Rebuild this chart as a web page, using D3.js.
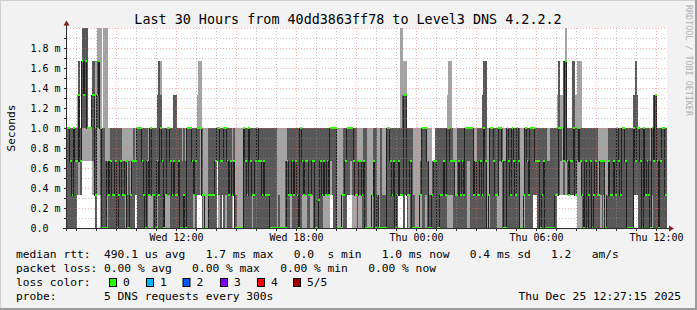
<!DOCTYPE html>
<html><head><meta charset="utf-8">
<script src="https://cdn.jsdelivr.net/npm/d3@7/dist/d3.min.js"></script>
<style>
body{margin:0;background:#f2f2f2}
svg{display:block}
text{font-family:"DejaVu Sans Mono",monospace;white-space:pre}
</style></head>
<body><svg id="c" width="697" height="310"></svg>
<script>
// ---------------- data ----------------
const chartTitle = "Last 30 Hours from 40dd3863ff78 to Level3 DNS 4.2.2.2";
const unitLabel = "Seconds";
const watermark = "RRDTOOL / TOBI OETIKER";
// 5-minute steps starting Wed Dec 24 2025 06:30
const stepStart = new Date(2025, 11, 24, 6, 30, 0);
const stepSeconds = 300;
// all ping values below are in units of 1/3 ms (timer resolution of the probe)
const valueUnitSeconds = 1e-3 / 3;
const median = [
 3,3,2,1,3,2,2,4,2,5,4,5,3,3,3,4,4,1,4,5,3,0,0,0,
 2,1,2,1,1,2,0,1,2,1,1,2,0,0,1,2,2,2,3,3,3,2,1,0,
 2,1,3,1,1,0,2,1,3,2,0,1,3,3,2,1,2,1,1,2,0,0,1,0,
 3,3,3,2,1,2,3,3,3,1,1,0,0,1,1,1,1,2,3,3,2,2,3,3,
 2,1,2,1,2,0,0,0,0,0,3,2,1,3,2,1,1,2,3,2,2,1,2,1,
 1,1,0,0,0,0,0,0,0,0,0,0,2,1,1,2,1,2,1,0,3,2,1,2,
 2,1,1,2,2,0,0,0.85,2,1,2,1,2,1,3,3,3,3,0,0,0,1,1,2,
 3,3,3,3,2,1,1,2,2,1,2,0,0,0,0,1,2,0,1,0,0,0,0,0,
 3,3,2,1,2,0,1,2,1,1,4,4,1,1,2,0,0,0,0,0,1,3,3,3,
 2,0,0,1,2,2,0,0,1,1,2,1,3,3,2,2,2,1,1,2,1,2,1,3,
 3,3,3,3,1,2,1,1,2,1,3,2,0,1,3,3,2,1,1,3,3,2,0,0,
 3,2,1,3,2,1,3,2,0,0,1,3,2,1,3,3,3,2,2,2,0,1,2,0,
 0,0,0,0,0,1,1,3,3,3,2,5,2,1,2,2,3,1,2,3,2,1,0,2,
 0,1,2,0,1,2,1,1,2,2,2,0,1,2,1,1,2,1,3,2,1,3,3,2,
 0,0,0,0,3,2,3,3,2,0,3,1,2,1,0,3,2,4,2,0,2,3,3,1
];
const pingMin = [
 0,0,0,0,0,0,1,1,1,2,2,2,2,2,2,1,1,0,1,1,0,0,0,0,
 0,0,0,0,0,0,0,0,0,0,0,0,0,0,0,0,0,1,0,0,0,0,0,0,
 0,0,0,0,0,0,0,0,0,0,0,0,0,0,0,0,0,0,0,0,0,0,0,0,
 0,0,0,0,0,0,1,1,1,0,0,0,0,0,0,0,0,0,2,0,0,1,0,0,
 0,0,0,0,1,0,0,0,0,0,0,0,0,0,0,0,0,0,0,0,0,0,0,0,
 0,0,0,0,0,0,0,0,0,0,0,0,0,0,0,0,0,0,0,0,0,0,0,0,
 0,0,0,0,0,0,0,0,0,0,0,0,0,0,1,1,0,0,0,0,0,0,0,0,
 1,1,1,0,0,0,0,0,0,0,0,0,0,0,0,0,0,0,0,0,0,0,0,0,
 0,0,0,0,0,0,0,1,1,1,0,1,0,0,0,0,0,0,0,0,0,0,0,0,
 0,0,0,0,0,0,0,0,0,0,0,0,0,0,0,0,0,0,0,0,0,0,0,0,
 0,0,0,0,0,0,0,0,0,0,0,0,0,0,0,0,0,0,0,0,0,0,0,0,
 0,0,0,0,0,0,0,0,0,0,0,0,0,0,0,0,1,1,0,0,0,0,0,0,
 0,0,0,0,0,0,1,1,1,1,1,1,1,1,1,1,1,1,0,0,0,0,0,0,
 0,0,0,0,0,0,0,0,0,0,0,0,0,0,0,0,0,0,0,0,0,0,0,0,
 0,0,0,0,1,1,1,0,0,0,0,0,0,0,0,0,0,0,0,0,0,0,0,0
];
const pingLow = [
 0,0,0,0,0,0,1,2,1,3,3,3,3,3,3,2,2,0,3,3,1,0,0,0,
 1,0,0,0,0,0,0,0,0,0,0,1,0,0,0,0,0,1,0,0,0,0,0,0,
 0,1,1,1,0,0,1,0,0,0,0,1,1,1,0,0,0,0,0,0,0,0,0,0,
 0,0,0,0,1,0,1,1,3,0,1,0,0,0,0,0,0,0,2,1,0,1,0,1,
 0,0,0,1,1,0,0,0,0,0,0,0,0,0,0,1,0,0,0,0,0,0,0,0,
 0,0,0,0,0,0,0,0,0,0,0,0,0,0,1,0,0,0,0,0,0,1,1,1,
 0,0,1,1,0,0,0,0,0,0,1,1,1,1,2,1,0,0,0,0,0,1,0,0,
 1,1,2,1,1,1,0,1,1,0,0,0,0,0,0,1,0,0,0,0,0,0,0,0,
 0,0,0,0,0,0,0,1,1,1,0,1,0,1,0,0,0,0,0,0,1,0,0,1,
 0,0,0,0,0,0,0,0,0,0,0,0,1,1,1,1,0,0,0,0,0,0,0,0,
 2,2,0,0,0,0,0,0,0,0,0,0,0,1,0,0,0,0,1,2,2,0,0,0,
 0,0,0,0,0,0,0,0,0,0,1,0,0,0,0,0,1,1,0,0,0,0,0,0,
 0,0,0,0,0,0,1,1,2,3,1,2,1,1,1,1,1,1,2,2,2,0,0,0,
 0,0,0,0,0,0,0,0,1,0,1,0,0,0,0,0,0,0,0,0,0,0,0,0,
 0,0,0,0,1,1,1,0,0,0,0,0,0,0,0,1,0,0,0,0,0,0,0,0
];
const pingHigh = [
 3,3,3,3,3,3,3,5,3,6,6,6,6,3,3,5,5,3,5,5,3,3,3,2,
 2,2,3,3,3,3,3,3,3,2,2,2,1,2,1,2,3,2,3,3,3,3,3,3,
 3,2,3,3,3,3,4,5,4,3,3,3,3,3,3,3,4,4,3,3,3,2,3,2,
 3,3,3,3,3,3,3,3,3,3,1,0,0,3,3,3,3,3,3,3,3,3,3,3,
 3,3,3,2,3,1,0,0,0,0,3,3,3,3,3,3,3,3,3,3,3,3,3,3,
 3,3,3,3,3,3,0,1,0,0,0,2,3,3,3,3,3,3,3,3,3,3,3,3,
 3,3,3,3,3,3,3,3,3,3,3,3,3,3,3,3,3,3,0,0,0,1,3,3,
 3,3,3,3,3,3,2,2,2,2,3,3,0,0,0,1,3,3,1,0,3,1,1,1,
 3,3,3,3,3,3,3,3,3,4,4,4,3,3,3,3,1,0,0,0,2,3,3,3,
 2,1,1,2,2,3,3,3,3,3,3,3,3,3,3,3,2,1,3,3,3,3,3,3,
 3,3,3,3,1,2,3,3,3,4,5,5,0,1,3,3,3,3,3,3,3,3,2,2,
 3,3,3,3,3,3,3,3,0,0,1,3,3,3,3,3,3,3,3,3,3,3,3,3,
 2,2,3,3,3,3,3,5,3,3,5,5,3,3,3,5,5,3,3,3,3,3,3,3,
 3,3,3,3,3,3,3,1,2,2,2,0,1,3,3,3,3,3,3,3,3,3,3,3,
 3,3,3,3,4,5,4,3,3,3,3,3,3,3,2,3,4,4,3,3,3,3,3,3
];
const pingMax = [
 3,3,3,3,3,3,4,5,3,7,7,7,7,3,3,5,5,5,7,7,7,3,7,7,
 7,3,3,3,3,3,3,3,3,3,3,3,3,3,3,3,3,3,3,3,3,3,3,3,
 3,3,3,3,3,3,4,5,5,3,3,3,3,3,3,3,4,4,3,3,3,3,3,3,
 3,3,3,3,3,3,4,5,5,3,3,3,3,3,3,3,3,3,3,3,3,3,3,3,
 3,3,3,3,3,3,3,3,3,3,3,3,3,3,3,3,3,3,3,3,3,3,3,3,
 3,3,3,3,3,3,3,3,3,3,3,3,3,3,3,3,3,3,3,3,3,3,3,3,
 3,3,3,3,3,3,3,3,3,3,3,3,3,3,3,3,3,3,3,3,3,3,3,3,
 3,3,3,3,3,3,3,3,3,3,3,3,3,3,3,3,3,3,3,3,3,3,3,3,
 3,3,3,3,3,3,3,3,7,7,5,5,3,3,3,3,3,3,3,3,3,3,3,3,
 3,3,3,2,2,3,3,3,3,3,3,3,4,5,5,3,3,3,3,3,3,3,3,3,
 3,3,3,3,3,3,3,3,3,4,5,5,3,3,3,3,3,3,3,3,3,3,3,3,
 3,3,3,3,3,3,3,3,3,3,3,3,3,3,3,3,3,3,3,3,3,3,3,3,
 3,3,3,3,3,3,4,5,4,4,5,7,3,3,3,5,5,4,5,5,5,3,3,3,
 3,3,3,3,3,3,3,3,3,3,3,3,3,3,3,3,3,3,3,3,3,3,3,3,
 3,3,3,3,4,5,4,3,3,3,3,3,3,3,3,3,4,4,3,3,3,3,3,3
];
const yTickValues = [0, 0.2e-3, 0.4e-3, 0.6e-3, 0.8e-3, 1.0e-3, 1.2e-3, 1.4e-3, 1.6e-3, 1.8e-3];
const yTickLabels = ["0.0  ", "0.2 m", "0.4 m", "0.6 m", "0.8 m", "1.0 m", "1.2 m", "1.4 m", "1.6 m", "1.8 m"];
const xLabelTimes = [new Date(2025,11,24,12), new Date(2025,11,24,18), new Date(2025,11,25,0), new Date(2025,11,25,6), new Date(2025,11,25,12)];
const xLabels = ["Wed 12:00", "Wed 18:00", "Thu 00:00", "Thu 06:00", "Thu 12:00"];
const legendRows = [
 "median rtt:  490.1 us avg   1.7 ms max   0.0  s min   1.0 ms now   0.4 ms sd   1.2   am/s",
 "packet loss: 0.00 % avg   0.00 % max   0.00 % min   0.00 % now",
 "loss color:",
 "probe:       5 DNS requests every 300s"
];
const lossLabels = ["0", "1", "2", "3", "4", "5/5"];
const lossColors = ["#26ff00", "#00b8ff", "#0059ff", "#7e00ff", "#ff0000", "#a10000"];
const stampText = "Thu Dec 25 12:27:15 2025";

// ---------------- drawing ----------------
const svg = d3.select("#c");
const W = 697, H = 310;
const X0 = 67, X1 = 667, Y0 = 228, Y1 = 28;
const x = d3.scaleTime().domain([new Date(2025,11,24,6,31,30), new Date(2025,11,25,12,31,30)]).range([X0, X1]);
const y = d3.scaleLinear().domain([0, 2.0e-3]).range([Y0, Y1]);

svg.append("rect").attr("width", W).attr("height", H).attr("fill", "#f2f2f2");
// frame
svg.append("rect").attr("x",0).attr("y",0).attr("width",W).attr("height",1).attr("fill","#d0d0d0");
svg.append("rect").attr("x",0).attr("y",0).attr("width",1).attr("height",H).attr("fill","#d0d0d0");
svg.append("rect").attr("x",0).attr("y",H-2).attr("width",W).attr("height",2).attr("fill","#9c9c9c");
svg.append("rect").attr("x",W-2).attr("y",0).attr("width",2).attr("height",H).attr("fill","#9c9c9c");

svg.append("rect").attr("x", X0).attr("y", Y1).attr("width", X1 - X0).attr("height", Y0 - Y1).attr("fill", "#ffffff");

svg.append("clipPath").attr("id","plot").append("rect").attr("x", X0).attr("y", Y1).attr("width", X1 - X0).attr("height", Y0 - Y1);

const steps = median.map((m, k) => ({
  t: new Date(stepStart.getTime() + k * stepSeconds * 1000),
  min: pingMin[k] * valueUnitSeconds, lo: pingLow[k] * valueUnitSeconds,
  med: m * valueUnitSeconds, hi: pingHigh[k] * valueUnitSeconds, max: pingMax[k] * valueUnitSeconds
}));
const last = steps[steps.length - 1];
const pts = steps.concat([Object.assign({}, last, {t: new Date(last.t.getTime() + stepSeconds * 1000)})]);

const g = svg.append("g").attr("clip-path", "url(#plot)");
const areaOuter = d3.area().curve(d3.curveStepAfter).x(d => x(d.t)).y0(d => y(d.min)).y1(d => y(d.max));
const areaInner = d3.area().curve(d3.curveStepAfter).x(d => x(d.t)).y0(d => y(d.lo)).y1(d => y(d.hi));
g.append("path").attr("d", areaOuter(pts)).attr("fill", "#a4a4a4").attr("shape-rendering", "crispEdges");
g.append("path").attr("d", areaInner(pts)).attr("fill", "#585858").attr("shape-rendering", "crispEdges");
const medLine = d3.line().curve(d3.curveStepAfter).x(d => x(d.t)).y(d => Math.round(y(d.med)) + 0.5);
g.append("path").attr("d", medLine(pts)).attr("fill", "none").attr("stroke", "#202020").attr("stroke-width", 1).attr("shape-rendering", "crispEdges");
g.selectAll("rect.med").data(steps).join("rect").attr("class","med")
  .attr("x", d => x(d.t)).attr("width", d => x(new Date(d.t.getTime() + stepSeconds*1000)) - x(d.t))
  .attr("y", d => Math.round(y(d.med)) - 1).attr("height", 2)
  .attr("fill", lossColors[0]).attr("shape-rendering", "crispEdges");

// grid (drawn on top like rrdtool)
const gridG = svg.append("g");
const minorH = d3.range(1, 20).map(i => i * 0.1e-3).filter((v, i) => (i + 1) % 2 === 1);
gridG.selectAll("line.hmin").data(minorH).join("line")
  .attr("x1", X0).attr("x2", X1).attr("y1", d => Math.round(y(d)) + 0.5).attr("y2", d => Math.round(y(d)) + 0.5)
  .attr("stroke", "rgba(150,150,150,0.55)").attr("stroke-dasharray", "1,2");
const majorH = yTickValues.slice(1).concat([2.0e-3]);
gridG.selectAll("line.hmaj").data(majorH).join("line")
  .attr("x1", X0).attr("x2", X1).attr("y1", d => Math.round(y(d)) + 0.5).attr("y2", d => Math.round(y(d)) + 0.5)
  .attr("stroke", "rgba(255,100,100,0.5)").attr("stroke-dasharray", "1,2");
const hours = d3.timeHour.range(x.domain()[0], x.domain()[1]);
const minorV = hours.filter(h => h.getHours() % 3 !== 0);
const majorV = hours.filter(h => h.getHours() % 3 === 0);
gridG.selectAll("line.vmin").data(minorV).join("line")
  .attr("x1", d => Math.floor(x(d)) + 0.5).attr("x2", d => Math.floor(x(d)) + 0.5).attr("y1", Y1).attr("y2", Y0)
  .attr("stroke", "rgba(150,150,150,0.55)").attr("stroke-dasharray", "1,2");
gridG.selectAll("line.vmaj").data(majorV).join("line")
  .attr("x1", d => Math.floor(x(d)) + 0.5).attr("x2", d => Math.floor(x(d)) + 0.5).attr("y1", Y1).attr("y2", Y0)
  .attr("stroke", "rgba(255,100,100,0.5)").attr("stroke-dasharray", "1,2");

// axes
const axisCol = "#2c2c2c", arrowCol = "#7f1f1f";
svg.append("line").attr("x1", 63).attr("x2", 669).attr("y1", Y0 + 0.5).attr("y2", Y0 + 0.5).attr("stroke", axisCol);
svg.append("line").attr("x1", X0 - 0.5).attr("x2", X0 - 0.5).attr("y1", Y0 + 3).attr("y2", 25).attr("stroke", axisCol);
svg.append("path").attr("d", `M669,225.5L669,231.5L674,228.5Z`).attr("fill", arrowCol);
svg.append("path").attr("d", `M63.5,25.5L69.5,25.5L66.5,20.5Z`).attr("fill", arrowCol);
// ticks
svg.selectAll("line.yt").data(d3.range(0, 20).map(i => i * 0.1e-3)).join("line")
  .attr("x1", X0 - 3).attr("x2", X0).attr("y1", d => Math.round(y(d)) + 0.5).attr("y2", d => Math.round(y(d)) + 0.5)
  .attr("stroke", axisCol);
svg.selectAll("line.xt").data(hours).join("line")
  .attr("x1", d => Math.floor(x(d)) + 0.5).attr("x2", d => Math.floor(x(d)) + 0.5)
  .attr("y1", Y0).attr("y2", Y0 + 3).attr("stroke", axisCol);

// y labels
svg.selectAll("text.yl").data(yTickValues).join("text")
  .attr("x", 30.5).attr("y", d => y(d) + 3.5).attr("font-size", 10).attr("fill", "#000")
  .text((d, i) => yTickLabels[i]);
// x labels
svg.selectAll("text.xl").data(xLabelTimes).join("text")
  .attr("x", d => x(d)).attr("y", 241).attr("text-anchor", "middle").attr("font-size", 10).attr("fill", "#000")
  .text((d, i) => xLabels[i]);
// unit label
svg.append("text").attr("transform", `translate(14.5,${(Y0 + Y1) / 2}) rotate(-90)`).attr("text-anchor", "middle")
  .attr("font-size", 11.1).attr("fill", "#000").text(unitLabel);
// title
svg.append("text").attr("x", 348).attr("y", 24).attr("text-anchor", "middle").attr("font-size", 13.4).attr("fill", "#000").text(chartTitle);
// watermark
svg.append("text").attr("transform", "translate(685.5,5) rotate(90)").attr("font-size", 8.4).attr("fill", "#b0b0b0").text(watermark);

// legend
const rowY = [258, 272, 286, 300];
legendRows.forEach((r, i) => {
  svg.append("text").attr("x", 16).attr("y", rowY[i]).attr("font-size", 11.25).attr("fill", "#000").text(r);
});
const boxX = [109, 146, 182.5, 220, 257, 293];
lossLabels.forEach((l, i) => {
  svg.append("rect").attr("x", boxX[i] + 0.5).attr("y", 278.5).attr("width", 7).attr("height", 8)
    .attr("fill", lossColors[i]).attr("stroke", "#000").attr("stroke-width", 1);
  svg.append("text").attr("x", boxX[i] + 14).attr("y", rowY[2]).attr("font-size", 11.25).attr("fill", "#000").text(l);
});
svg.append("text").attr("x", 681).attr("y", rowY[3]).attr("text-anchor", "end").attr("font-size", 11.25).attr("fill", "#000").text(stampText);
</script></body></html>
